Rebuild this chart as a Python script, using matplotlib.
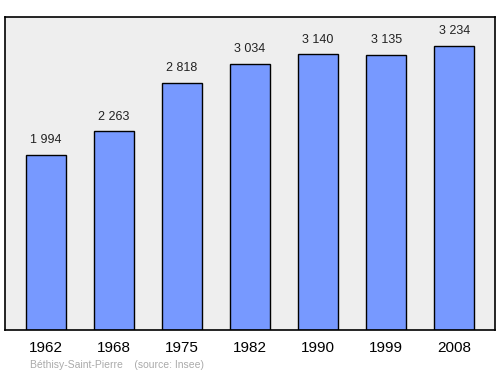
import matplotlib.pyplot as plt

plt.rcParams['font.family'] = ['Liberation Sans', 'DejaVu Sans']

years = ['1962', '1968', '1975', '1982', '1990', '1999', '2008']
population = [1994, 2263, 2818, 3034, 3140, 3135, 3234]
value_labels = ['1 994', '2 263', '2 818', '3 034', '3 140', '3 135', '3 234']

fig = plt.figure(figsize=(5, 3.74), dpi=100)
ax = fig.add_axes([0.01, 0.1176, 0.98, 0.837])
ax.set_facecolor('#eeeeee')

x = range(len(years))
ax.bar(x, population, width=0.59, color='#7799ff', edgecolor='black', linewidth=1, zorder=2)

for xi, v, lab in zip(x, population, value_labels):
    ax.text(xi, v + 100, lab, ha='center', va='bottom', fontsize=9, color='#222222')

ax.set_xlim(-0.6, 6.6)
ax.set_ylim(0, 3566)
ax.set_yticks([])
ax.set_xticks(list(x))
ax.set_xticklabels(years, fontsize=11)
ax.tick_params(axis='x', length=0, pad=8)
for s in ax.spines.values():
    s.set_linewidth(1.2)

fig.text(0.06, 0.015, 'Béthisy-Saint-Pierre    (source: Insee)', fontsize=7.5, color='#aaaaaa')

fig.savefig('out.png', dpi=100)
